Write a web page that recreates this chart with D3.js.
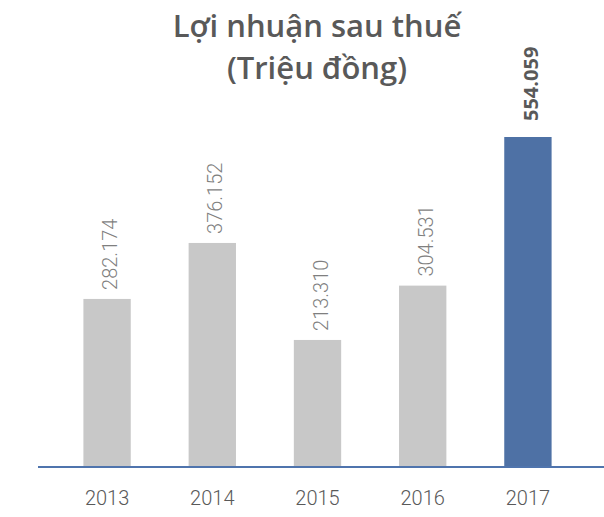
<!DOCTYPE html>
<html>
<head>
<meta charset="utf-8">
<script src="https://cdn.jsdelivr.net/npm/d3@7"></script>
<style>
  body { margin: 0; background: #fff; }
  svg { display: block; }
</style>
</head>
<body>
<div id="chart"></div>
<script>
const years = ["2013", "2014", "2015", "2016", "2017"];
const profits = [282.174, 376.152, 213.310, 304.531, 554.059];
const labels = ["282.174", "376.152", "213.310", "304.531", "554.059"];
const titleLines = ["Lợi nhuận sau thuế", "(Triệu đồng)"];

const width = 604;
const height = 517;
const baseY = 467;
const font = "'Source Sans Pro', 'Open Sans', sans-serif";
const thin = "Roboto, 'Open Sans', sans-serif";

const svg = d3.select("#chart").append("svg")
  .attr("width", width)
  .attr("height", height);

const x = d3.scaleBand()
  .domain(years)
  .range([55, 580])
  .paddingInner(0.55)
  .paddingOuter(0.27);

const y = d3.scaleLinear()
  .domain([0, 554.059])
  .range([baseY, 137]);

svg.selectAll("text.title")
  .data(titleLines)
  .enter()
  .append("text")
  .attr("class", "title")
  .attr("x", 317)
  .attr("y", (d, i) => 37 + i * 42)
  .attr("text-anchor", "middle")
  .attr("font-family", font)
  .attr("font-weight", 600)
  .attr("font-size", 31)
  .attr("fill", "#595959")
  .text((d) => d);

svg.selectAll("rect")
  .data(profits)
  .enter()
  .append("rect")
  .attr("x", (d, i) => x(years[i]))
  .attr("y", (d) => y(d))
  .attr("width", x.bandwidth())
  .attr("height", (d) => baseY - y(d))
  .attr("fill", (d, i) => i === years.length - 1 ? "#4e71a5" : "#c8c8c8");

svg.selectAll("text.value")
  .data(profits)
  .enter()
  .append("text")
  .attr("class", "value")
  .attr("transform", (d, i) => {
    const last = i === years.length - 1;
    const cx = x(years[i]) + x.bandwidth() / 2 + 3;
    return `translate(${cx},${y(d) - (last ? 16 : 9)}) rotate(-90)`;
  })
  .attr("dy", "0.35em")
  .attr("font-family", (d, i) => i === years.length - 1 ? font : thin)
  .attr("font-weight", (d, i) => i === years.length - 1 ? 700 : 300)
  .attr("font-size", 20)
  .attr("fill", (d, i) => i === years.length - 1 ? "#595959" : "#7f7f7f")
  .text((d, i) => labels[i]);

const axis = svg.append("g")
  .attr("transform", `translate(0,${baseY})`)
  .call(d3.axisBottom(x).tickSize(0).tickPadding(24).tickSizeOuter(0));

axis.select(".domain")
  .attr("d", `M38,0H${width}`)
  .attr("stroke", "#4f74ad")
  .attr("stroke-width", 2);

axis.selectAll("text")
  .attr("font-family", thin)
  .attr("font-weight", 300)
  .attr("font-size", 20)
  .attr("fill", "#595959");
</script>
</body>
</html>
